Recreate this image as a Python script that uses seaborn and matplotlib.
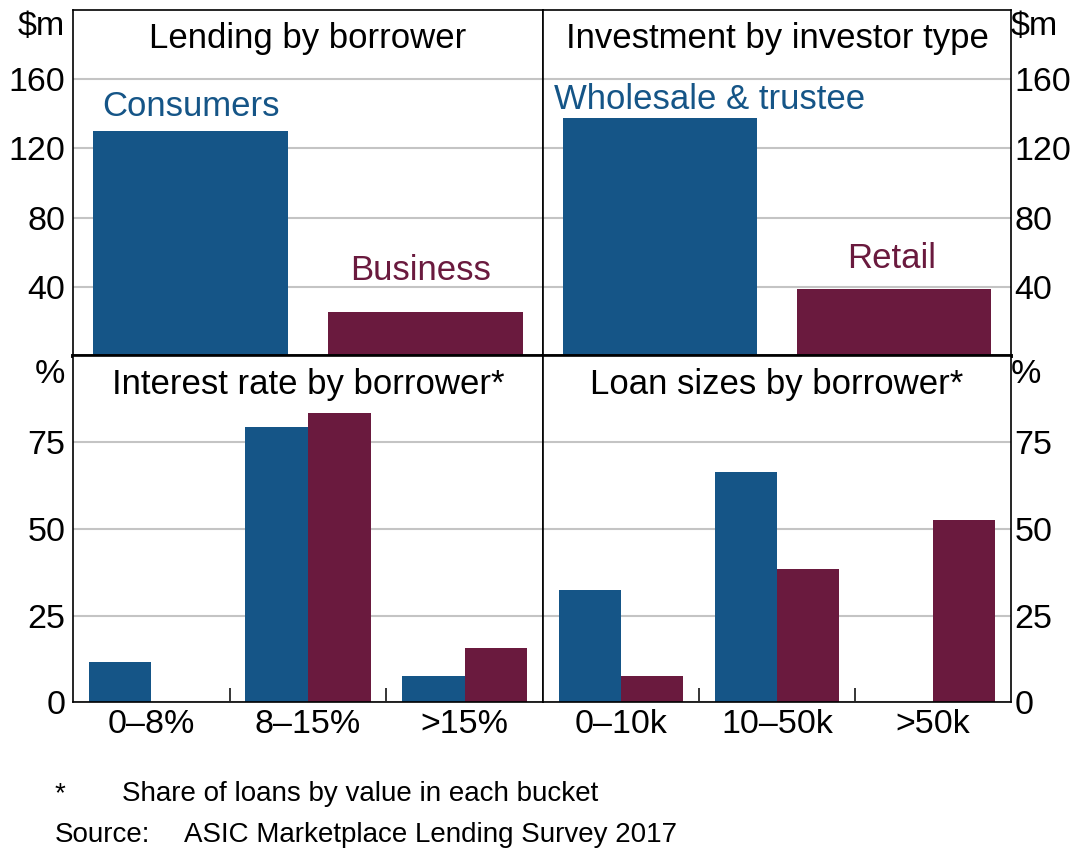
import numpy as np
import pandas as pd
import matplotlib
matplotlib.use("Agg")
import matplotlib.pyplot as plt
import seaborn as sns

# values
borrowers = ["Consumers", "Business"]
lending = [130, 25.5]
investors = ["Wholesale & trustee", "Retail"]
investment = [137.5, 39]

rate_buckets = ["0–8%", "8–15%", ">15%"]
rate_consumers = [11.5, 79.5, 7.5]
rate_business = [0, 83.5, 15.5]

size_buckets = ["0–10k", "10–50k", ">50k"]
size_consumers = [32.5, 66.5, 0]
size_business = [7.5, 38.5, 52.5]

blue = "#155587"
maroon = "#6a1a3e"
grid_col = "#c4c4c4"

sns.set_style("white")
plt.rcParams["font.family"] = ["Liberation Sans", "DejaVu Sans"]
plt.rcParams["text.color"] = "black"
plt.rcParams["xtick.color"] = "black"
plt.rcParams["ytick.color"] = "black"
FS = 24.5

W, H = 1075, 848
fig = plt.figure(figsize=(W / 100, H / 100), dpi=100)


def box(x0, y0, x1, y1):
    return [x0 / W, 1 - y1 / H, (x1 - x0) / W, (y1 - y0) / H]


ax_lend = fig.add_axes(box(73, 10, 543, 356))
ax_inv = fig.add_axes(box(543, 10, 1011, 356))
ax_rate = fig.add_axes(box(73, 356, 543, 702))
ax_size = fig.add_axes(box(543, 356, 1011, 702))


def style(ax, right, ticks, ylim, unit, unit_off, title, top):
    ax.set_ylim(*ylim)
    ax.set_yticks(ticks)
    ax.set_yticklabels([str(t) for t in ticks], fontsize=FS)
    ax.yaxis.grid(True, color=grid_col, lw=1.5)
    ax.xaxis.grid(False)
    ax.set_axisbelow(True)
    ax.set_xlabel("")
    ax.set_ylabel("")
    for s in ax.spines.values():
        s.set_color("black")
        s.set_linewidth(1.2)
        s.set_visible(True)
    if top:
        ax.spines["bottom"].set_linewidth(2.8)
    if right:
        ax.yaxis.tick_right()
        ax.tick_params(axis="y", which="major", length=0, pad=2.5, labelright=True, labelleft=False)
        ax.text(1.0, 1 - unit_off, unit, transform=ax.transAxes, ha="left", va="baseline",
                fontsize=FS)
    else:
        ax.tick_params(axis="y", which="major", length=0, pad=5.5)
        ax.text(-0.017, 1 - unit_off, unit, transform=ax.transAxes, ha="right", va="baseline",
                fontsize=FS)
    ax.text(0.5, 0.89, title, transform=ax.transAxes, ha="center", va="baseline", fontsize=25)


# top row: totals
sns.barplot(x=borrowers, y=lending, hue=borrowers, palette=[blue, maroon], width=0.83,
            dodge=False, legend=False, saturation=1, linewidth=0, ax=ax_lend)
sns.barplot(x=investors, y=investment, hue=investors, palette=[blue, maroon], width=0.83,
            dodge=False, legend=False, saturation=1, linewidth=0, ax=ax_inv)

for ax, title, right in [(ax_lend, "Lending by borrower", False),
                         (ax_inv, "Investment by investor type", True)]:
    ax.set_xlim(-0.5, 1.5)
    style(ax, right, [40, 80, 120, 160], (0, 200), "$m", 25 / 346, title, True)
    ax.set_xticks([])

ax_lend.text(0, 138.5, "Consumers", color=blue, ha="center", va="baseline", fontsize=25)
ax_lend.text(0.98, 44, "Business", color=maroon, ha="center", va="baseline", fontsize=25)
ax_inv.text(0.21, 142.5, "Wholesale & trustee", color=blue, ha="center", va="baseline", fontsize=25)
ax_inv.text(0.99, 51, "Retail", color=maroon, ha="center", va="baseline", fontsize=25)

# bottom row: shares by bucket
rate_df = pd.DataFrame({
    "bucket": rate_buckets * 2,
    "borrower": ["Consumers"] * 3 + ["Business"] * 3,
    "share": rate_consumers + rate_business,
})
size_df = pd.DataFrame({
    "bucket": size_buckets * 2,
    "borrower": ["Consumers"] * 3 + ["Business"] * 3,
    "share": size_consumers + size_business,
})

for ax, df, title, right in [(ax_rate, rate_df, "Interest rate by borrower*", False),
                             (ax_size, size_df, "Loan sizes by borrower*", True)]:
    sns.barplot(data=df, x="bucket", y="share", hue="borrower", palette=[blue, maroon],
                width=0.8, saturation=1, linewidth=0, legend=False, ax=ax)
    ax.set_xlim(-0.5, 2.5)
    style(ax, right, [0, 25, 50, 75], (0, 100), "%", 27 / 346, title, False)
    ax.tick_params(axis="x", which="major", length=0, pad=5, labelsize=FS)
    ax.set_xticks([0.5, 1.5], minor=True)
    ax.tick_params(axis="x", which="minor", bottom=True, direction="in", length=10,
                   width=1.1, color="black")

fig.text(55 / W, 1 - 801 / H, "*", fontsize=20, ha="left", va="baseline")
fig.text(122 / W, 1 - 801 / H, "Share of loans by value in each bucket", fontsize=20,
         ha="left", va="baseline")
fig.text(55 / W, 1 - 842 / H, "Source:", fontsize=20, ha="left", va="baseline")
fig.text(184 / W, 1 - 842 / H, "ASIC Marketplace Lending Survey 2017", fontsize=20,
         ha="left", va="baseline")

fig.savefig("out.png", dpi=100)
